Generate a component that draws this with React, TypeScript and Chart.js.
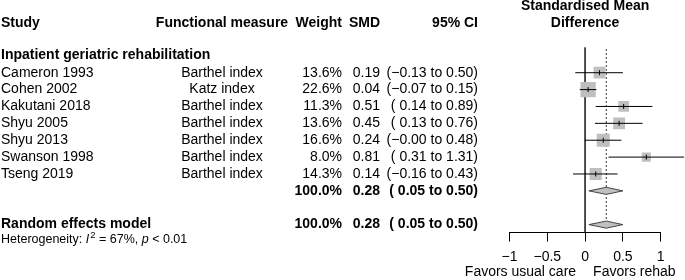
import React, { useEffect, useRef } from 'react';
import { Chart, registerables } from 'chart.js';

Chart.register(...registerables);

// ---------- data ----------
const studies = ['Cameron 1993', 'Cohen 2002', 'Kakutani 2018', 'Shyu 2005', 'Shyu 2013', 'Swanson 1998', 'Tseng 2019'];
const measures = ['Barthel index', 'Katz index', 'Barthel index', 'Barthel index', 'Barthel index', 'Barthel index', 'Barthel index'];
const weights = [13.6, 22.6, 11.3, 13.6, 16.6, 8.0, 14.3];
const smd = [0.19, 0.04, 0.51, 0.45, 0.24, 0.81, 0.14];
const ciLow = [-0.13, -0.07, 0.14, 0.13, -0.003, 0.31, -0.16];
const ciHigh = [0.5, 0.15, 0.89, 0.76, 0.48, 1.31, 0.43];

const pooledWeight = 100.0;
const pooledSmd = 0.28;
const pooledLow = 0.05;
const pooledHigh = 0.5;

const subgroupLabel = 'Inpatient geriatric rehabilitation';
const modelLabel = 'Random effects model';
const headers = ['Study', 'Functional measure', 'Weight', 'SMD', '95% CI'];
const plotTitle = ['Standardised Mean', 'Difference'];
const labelLeft = 'Favors usual care';
const labelRight = 'Favors rehab';
const hetI2 = '67%';
const hetP = '< 0.01';
const xTicks = [-1, -0.5, 0, 0.5, 1];

// ---------- layout (row units) ----------
const SUBGROUP_ROW = 7;
const MODEL_ROW = 9;
const Y_MIN = -1.505;
const Y_MAX = 9.467;
const FONT = '"Liberation Sans", Arial, Helvetica, sans-serif';

const fmtNum = (v: number) => {
  const s = v.toFixed(2);
  return s.startsWith('-') ? '\u2212' + s.slice(1) : s;
};
const fmtCI = (lo: number, hi: number) => {
  const l = lo.toFixed(2);
  const ls = l.startsWith('-') ? '\u2212' + l.slice(1) : ' ' + l;
  return `(${ls} to ${hi.toFixed(2)})`;
};

const diamond = (row: number, lo: number, est: number, hi: number, h: number) => [
  { x: lo, y: row },
  { x: est, y: row - h },
  { x: hi, y: row },
  { x: est, y: row + h },
  { x: lo, y: row },
];

const textPlugin = {
  id: 'forestText',
  afterDraw(chart: any) {
    const ctx = chart.ctx as CanvasRenderingContext2D;
    const ys = chart.scales.y;
    const xs = chart.scales.x;
    const py = (r: number) => ys.getPixelForValue(r);
    const f = (bold: boolean, size = 14, italic = false) =>
      `${italic ? 'italic ' : ''}${bold ? 'bold ' : ''}${size}px ${FONT}`;
    const COL_STUDY = 1;
    const COL_MEAS = 222;
    const COL_W = 342;
    const COL_SMD = 380;
    const COL_CI = 478;
    ctx.save();
    ctx.fillStyle = '#000';
    ctx.textBaseline = 'middle';

    // headers
    const hy = py(-2.96);
    ctx.font = f(true);
    ctx.textAlign = 'left';
    ctx.fillText(headers[0], COL_STUDY, hy);
    ctx.textAlign = 'center';
    ctx.fillText(headers[1], COL_MEAS, hy);
    ctx.textAlign = 'right';
    ctx.fillText(headers[2], COL_W, hy);
    ctx.fillText(headers[3], COL_SMD, hy);
    ctx.fillText(headers[4], COL_CI, hy);
    ctx.textAlign = 'center';
    const x0 = xs.getPixelForValue(0);
    ctx.fillText(plotTitle[0], x0, py(-3.94));
    ctx.fillText(plotTitle[1], x0, py(-2.96));

    // subgroup heading
    ctx.textAlign = 'left';
    ctx.fillText(subgroupLabel, COL_STUDY, py(-1.05));

    // studies
    ctx.font = f(false);
    studies.forEach((s, i) => {
      const y = py(i);
      ctx.textAlign = 'left';
      ctx.fillText(s, COL_STUDY, y);
      ctx.textAlign = 'center';
      ctx.fillText(measures[i], COL_MEAS, y);
      ctx.textAlign = 'right';
      ctx.fillText(weights[i].toFixed(1) + '%', COL_W, y);
      ctx.fillText(fmtNum(smd[i]), COL_SMD, y);
      ctx.fillText(fmtCI(ciLow[i], ciHigh[i]), COL_CI, y);
    });

    // subgroup total + model
    ctx.font = f(true);
    [SUBGROUP_ROW, MODEL_ROW].forEach((r) => {
      const y = py(r);
      ctx.textAlign = 'right';
      ctx.fillText(pooledWeight.toFixed(1) + '%', COL_W, y);
      ctx.fillText(fmtNum(pooledSmd), COL_SMD, y);
      ctx.fillText(fmtCI(pooledLow, pooledHigh), COL_CI, y);
    });
    ctx.textAlign = 'left';
    ctx.fillText(modelLabel, COL_STUDY, py(MODEL_ROW));

    // heterogeneity
    const hs = 12.5;
    const hY = py(9.86);
    let hx = COL_STUDY;
    const put = (t: string, font: string, dy = 0) => {
      ctx.font = font;
      ctx.fillText(t, hx, hY + dy);
      hx += ctx.measureText(t).width;
    };
    put('Heterogeneity: ', f(false, hs));
    put('I', f(false, hs, true));
    hx += 1;
    put('2', f(false, 9.5), -4);
    put(' = ' + hetI2 + ', ', f(false, hs));
    put('p', f(false, hs, true));
    put(' ' + hetP, f(false, hs));

    // favors labels
    ctx.font = f(false);
    const fy = py(11.8);
    ctx.textAlign = 'right';
    ctx.fillText(labelLeft, x0 - 9, fy);
    ctx.textAlign = 'left';
    ctx.fillText(labelRight, x0 + 8, fy);
    ctx.restore();
  },
};

export default function App() {
  const ref = useRef<HTMLCanvasElement>(null);
  useEffect(() => {
    if (!ref.current) return;
    const ciSets = studies.map((_, i) => ({
      type: 'line' as const,
      data: [
        { x: ciLow[i], y: i },
        { x: ciHigh[i], y: i },
      ],
      borderColor: '#000',
      borderWidth: 1,
      pointRadius: 0,
      fill: false,
      clip: false as any,
      order: 2,
    }));
    const diamondSets = [SUBGROUP_ROW, MODEL_ROW].map((r) => ({
      type: 'line' as const,
      data: diamond(r, pooledLow, pooledSmd, pooledHigh, 0.21),
      borderColor: '#444',
      borderWidth: 1,
      backgroundColor: '#c0c0c0',
      pointRadius: 0,
      tension: 0,
      fill: 'shape' as any,
      order: 4,
    }));
    const chart = new Chart(ref.current, {
      type: 'scatter',
      data: {
        datasets: [
          {
            // estimate marks
            data: smd.map((x, i) => ({ x, y: i })),
            pointStyle: 'line',
            rotation: 90,
            pointRadius: 2.5,
            borderColor: '#000',
            borderWidth: 1,
            order: 1,
            clip: false as any,
          },
          ...ciSets,
          {
            // squares, area proportional to weight
            data: smd.map((x, i) => ({ x, y: i })),
            pointStyle: 'rect',
            pointRadius: weights.map((w) => (3.2 * Math.sqrt(w)) / Math.SQRT2),
            backgroundColor: '#bfbfbf',
            borderColor: '#bfbfbf',
            borderWidth: 0,
            order: 3,
          },
          ...diamondSets,
          {
            // null effect line
            type: 'line' as const,
            data: [
              { x: 0, y: Y_MIN },
              { x: 0, y: Y_MAX },
            ],
            borderColor: '#333',
            borderWidth: 1,
            pointRadius: 0,
            fill: false,
            order: 5,
          },
          {
            // pooled estimate dotted line
            type: 'line' as const,
            data: [
              { x: pooledSmd, y: Y_MIN + 0.1 },
              { x: pooledSmd, y: MODEL_ROW },
            ],
            borderColor: '#333',
            borderWidth: 1,
            borderDash: [2, 2],
            pointRadius: 0,
            fill: false,
            order: 6,
          },
        ] as any,
      },
      options: {
        responsive: false,
        animation: false,
        devicePixelRatio: 1,
        events: [],
        layout: { padding: { left: 509.5, right: 24.3, top: 47.3, bottom: 17.5 } },
        plugins: { legend: { display: false }, tooltip: { enabled: false } },
        scales: {
          x: {
            type: 'linear',
            min: -1,
            max: 1,
            afterFit: (s: any) => {
              s.height = 30;
            },
            afterBuildTicks: (s: any) => {
              s.ticks = xTicks.map((v) => ({ value: v }));
            },
            border: { display: true, color: '#000', width: 1 },
            grid: { drawOnChartArea: false, drawTicks: true, tickLength: 9, color: '#000', lineWidth: 1 },
            ticks: {
              autoSkip: false,
              maxRotation: 0,
              padding: 7,
              color: '#000',
              font: { family: FONT, size: 14 },
              callback: (v: any) => fmtNum(Number(v)).replace(/\.?0+$/, '') || '0',
            },
          },
          y: {
            type: 'linear',
            display: false,
            reverse: true,
            min: Y_MIN,
            max: Y_MAX,
          },
        },
      },
      plugins: [textPlugin],
    });
    return () => chart.destroy();
  }, []);
  return (
    <div style={{ position: 'absolute', left: 0, top: 0, width: 685, height: 280 }}>
      <canvas ref={ref} width={685} height={280} style={{ display: 'block', width: 685, height: 280 }} />
    </div>
  );
}
